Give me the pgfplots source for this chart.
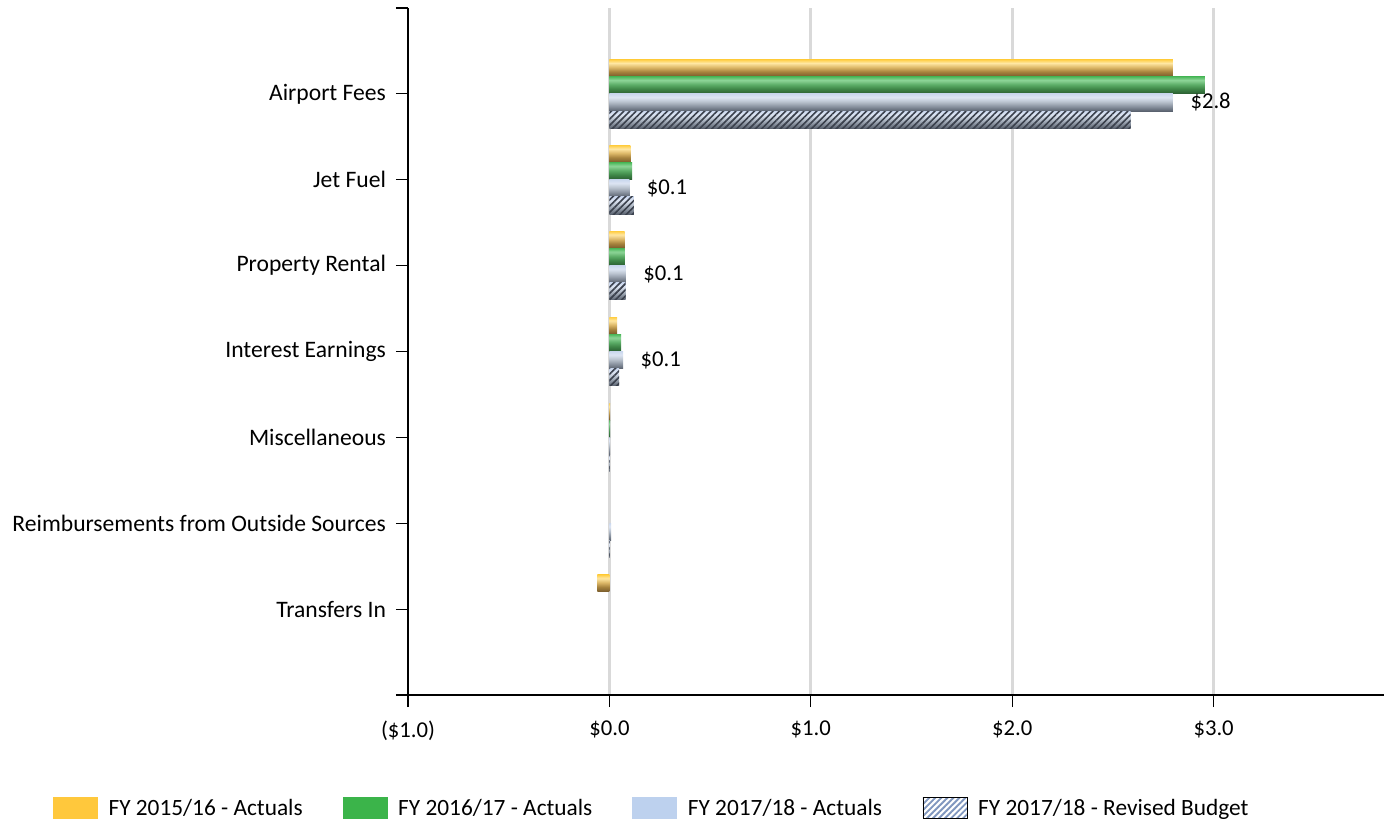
\documentclass[border=0pt]{standalone}
\usepackage{fontspec}
\setmainfont{Carlito}
\usepackage{pgfplots}
\pgfplotsset{compat=1.18}
\usetikzlibrary{patterns.meta}

\definecolor{yelT}{HTML}{FFCE45}
\definecolor{yelA}{HTML}{FFE7A3}
\definecolor{yelB}{HTML}{DDB868}
\definecolor{yelC}{HTML}{A8843E}
\definecolor{yelD}{HTML}{76592A}
\definecolor{grnT}{HTML}{4FBA5E}
\definecolor{grnA}{HTML}{8ED598}
\definecolor{grnB}{HTML}{5DAE68}
\definecolor{grnC}{HTML}{3F8748}
\definecolor{grnD}{HTML}{2A5C31}
\definecolor{bluT}{HTML}{CBD8EE}
\definecolor{bluA}{HTML}{DDE5F3}
\definecolor{bluB}{HTML}{BAC3CF}
\definecolor{bluC}{HTML}{8E97A4}
\definecolor{bluD}{HTML}{59616E}
\definecolor{hatchDark}{HTML}{3A404C}
\definecolor{legY}{HTML}{FFC83C}
\definecolor{legG}{HTML}{3BB44A}
\definecolor{legB}{HTML}{BDD1EE}
\definecolor{legH}{HTML}{7F96BE}
\definecolor{gridgray}{HTML}{D9D9D9}

\pgfdeclareverticalshading{yelsh}{100bp}{color(0bp)=(yelD); color(25bp)=(yelD); color(40bp)=(yelC); color(52.5bp)=(yelB); color(65bp)=(yelA); color(75bp)=(yelT); color(100bp)=(yelT)}
\pgfdeclareverticalshading{grnsh}{100bp}{color(0bp)=(grnD); color(25bp)=(grnD); color(40bp)=(grnC); color(52.5bp)=(grnB); color(65bp)=(grnA); color(75bp)=(grnT); color(100bp)=(grnT)}
\pgfdeclareverticalshading{blush}{100bp}{color(0bp)=(bluD); color(25bp)=(bluD); color(40bp)=(bluC); color(52.5bp)=(bluB); color(65bp)=(bluA); color(75bp)=(bluT); color(100bp)=(bluT)}

\newcommand\lab{\fontsize{17.7}{20}\selectfont}
\newcommand\leg{\fontsize{17.5}{20}\selectfont}
\newcommand\num{\fontsize{17}{20}\selectfont}

% one shaded bar: shift, shading, value, category
\newcommand\onebar[4]{\addplot[xbar, bar width=0.2, bar shift=#1, draw=none, shade, shading=#2, forget plot] coordinates {(#3,#4)};}
% labelled bar (FY 2017/18 Actuals): value, category, label
\newcommand\labbar[3]{\addplot[xbar, bar width=0.2, bar shift=0.1, draw=none, shade, shading=blush, forget plot,
  nodes near coords={#3}, nodes near coords style={anchor=west, inner sep=0pt, xshift=13pt, yshift=-6.45pt, font=\num, text=black}] coordinates {(#1,#2)};}
% hatched bar (Revised Budget): value, category
\newcommand\hatchbar[2]{\addplot[xbar, bar width=0.2, bar shift=0.3, draw=none, shade, shading=blush, forget plot] coordinates {(#1,#2)};
  \addplot[xbar, bar width=0.2, bar shift=0.3, draw=none, pattern={Lines[angle=45,distance=3.3pt,line width=1.2pt]}, pattern color=hatchDark, forget plot] coordinates {(#1,#2)};}

\begin{document}
\begin{tikzpicture}
\path[use as bounding box] (-306pt,-95.25pt) rectangle (732pt,521.25pt);
\begin{axis}[
  at={(0,0)}, anchor=south west,
  scale only axis, width=732pt, height=515.25pt,
  xmin=-1, xmax=3.846, ymin=0, ymax=8, y dir=reverse,
  axis lines=left,
  axis line style={-, line width=2pt, black},
  xtick={-1,0,1,2,3},
  xticklabels={(\$1.0),\$0.0,\$1.0,\$2.0,\$3.0},
  ytick={0,1,2,3,4,5,6,7,8},
  yticklabels={{},Airport Fees,Jet Fuel,Property Rental,Interest Earnings,Miscellaneous,Reimbursements from Outside Sources,Transfers In,{}},
  tick align=outside,
  major tick length=9pt,
  tick style={line width=0.8pt, black},
  xmajorgrids,
  major grid style={draw=gridgray, line width=2pt},
  yticklabel style={font=\lab, text=black, xshift=-4pt},
  xticklabel style={font=\num, text=black, yshift=-7pt},
  legend columns=4,
  legend style={draw=none, fill=none, at={(-0.3637,-0.1645)}, anchor=west, inner sep=0pt, outer sep=0pt,
    font=\leg, nodes={inner sep=0pt, anchor=west},
    /tikz/every even column/.append style={column sep=30pt}},
]
\addlegendimage{legend image code/.code={\fill[legY] (0pt,-7.9pt) rectangle (33pt,7.9pt); \path (41.25pt,0pt);}}
\addlegendentry{FY 2015/16 - Actuals}
\addlegendimage{legend image code/.code={\fill[legG] (0pt,-7.9pt) rectangle (33pt,7.9pt); \path (41.25pt,0pt);}}
\addlegendentry{FY 2016/17 - Actuals}
\addlegendimage{legend image code/.code={\fill[legB] (0pt,-7.9pt) rectangle (33pt,7.9pt); \path (41.25pt,0pt);}}
\addlegendentry{FY 2017/18 - Actuals}
\addlegendimage{legend image code/.code={\fill[white] (0pt,-7.9pt) rectangle (33pt,7.9pt); \fill[pattern={Lines[angle=45,distance=3.2pt,line width=1.4pt]}, pattern color=legH] (0pt,-7.9pt) rectangle (33pt,7.9pt); \path (41.25pt,0pt);}}
\addlegendentry{FY 2017/18 - Revised Budget}

% FY 2015/16 Actuals
\onebar{-0.3}{yelsh}{2.798}{1}
\onebar{-0.3}{yelsh}{0.104}{2}
\onebar{-0.3}{yelsh}{0.076}{3}
\onebar{-0.3}{yelsh}{0.038}{4}
\onebar{-0.3}{yelsh}{0.004}{5}
\onebar{-0.3}{yelsh}{-0.06}{7}
% FY 2016/17 Actuals
\onebar{-0.1}{grnsh}{2.957}{1}
\onebar{-0.1}{grnsh}{0.113}{2}
\onebar{-0.1}{grnsh}{0.076}{3}
\onebar{-0.1}{grnsh}{0.058}{4}
\onebar{-0.1}{grnsh}{0.004}{5}
% FY 2017/18 Actuals
\labbar{2.798}{1}{\$2.8}
\labbar{0.099}{2}{\$0.1}
\labbar{0.081}{3}{\$0.1}
\labbar{0.068}{4}{\$0.1}
\onebar{0.1}{blush}{0.004}{5}
\onebar{0.1}{blush}{0.008}{6}
% FY 2017/18 Revised Budget
\hatchbar{2.588}{1}
\hatchbar{0.122}{2}
\hatchbar{0.081}{3}
\hatchbar{0.048}{4}
\hatchbar{0.002}{5}
\hatchbar{0.002}{6}
\end{axis}
\end{tikzpicture}
\end{document}
